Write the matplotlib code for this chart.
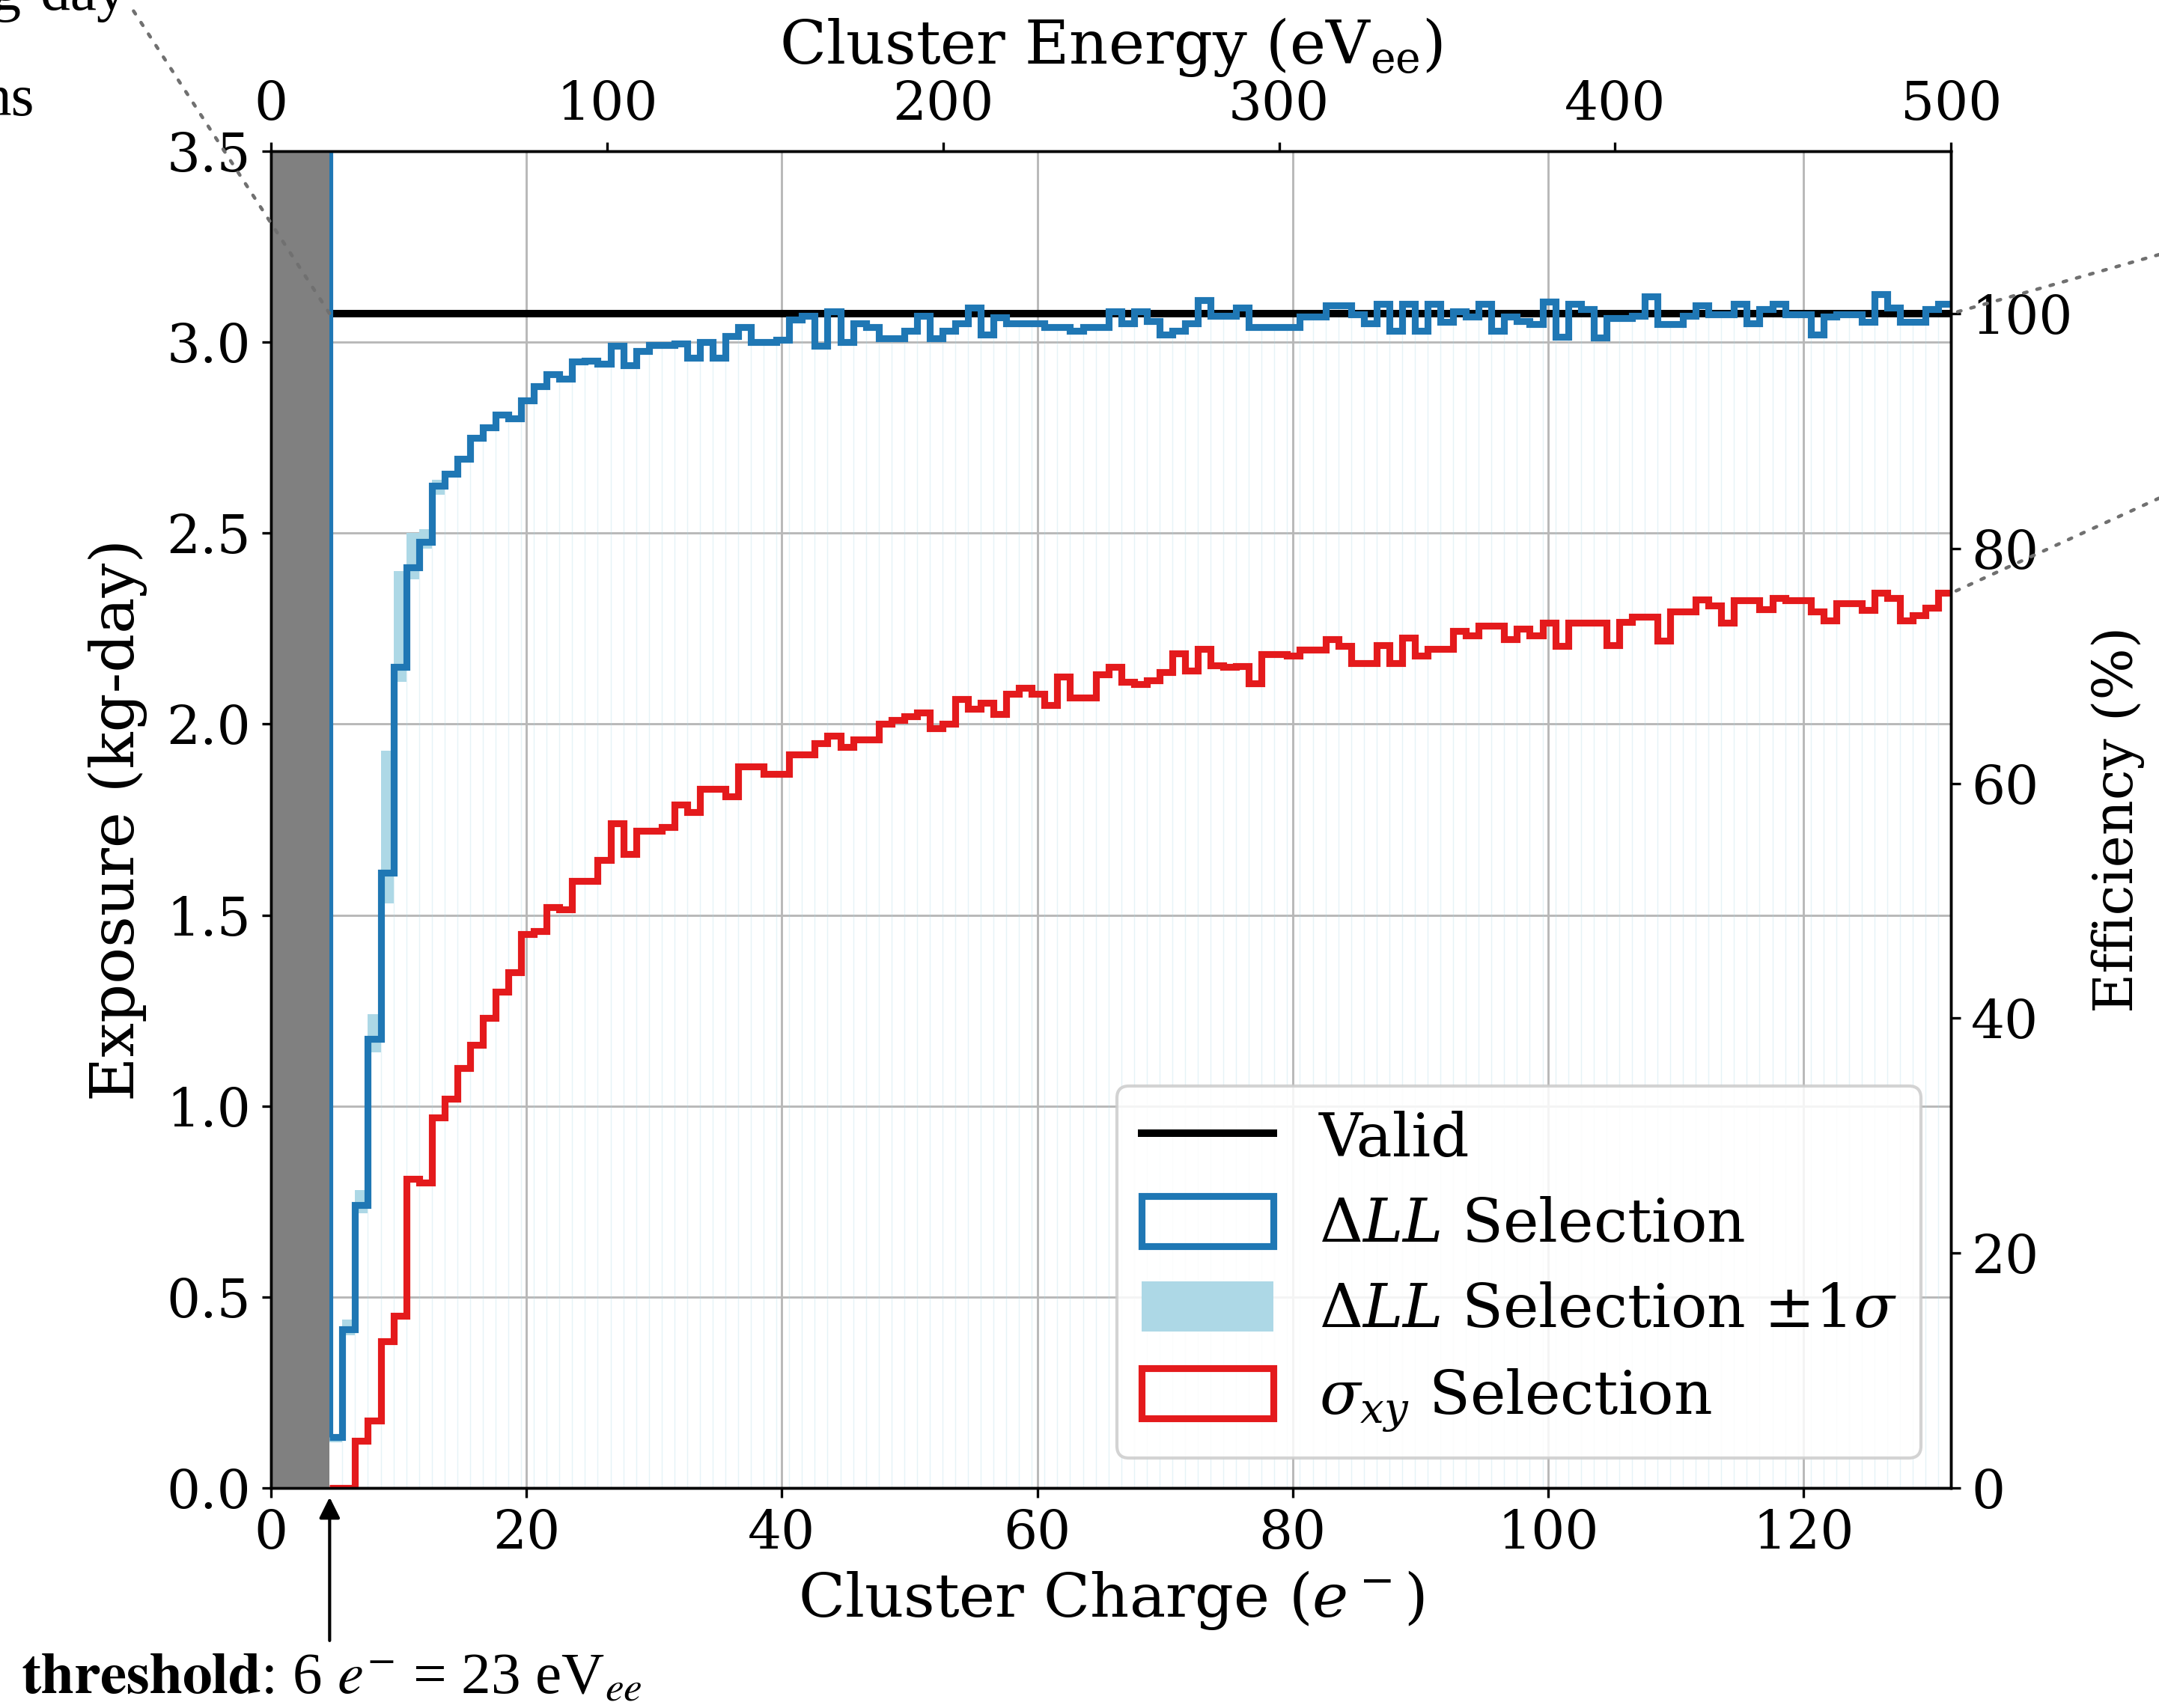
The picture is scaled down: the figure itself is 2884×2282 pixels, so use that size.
import matplotlib.pyplot as plt
import numpy as np
from matplotlib.lines import Line2D
from matplotlib.patches import ConnectionPatch, Patch

plt.rcParams["font.family"] = "DejaVu Serif"
plt.rcParams["mathtext.fontset"] = "dejavuserif"

EV_PER_E = 3.8      # eV_ee per electron
E_MAX = 500.0       # top axis range (eV_ee)
EXPO_MAX = 3.5      # kg-day
VALID = 3.075       # valid exposure (kg-day) == 100 %

# Delta-LL selection, one value per 1 e- bin (last bin ends at 500 eV_ee)
dll_sel = [
    0.133, 0.415, 0.74, 1.176, 1.61, 2.15, 2.41, 2.478, 2.624, 2.656,
    2.694, 2.75, 2.777, 2.81, 2.80, 2.847, 2.885, 2.917, 2.904, 2.949,
    2.952,
    2.944, 2.99, 2.94, 2.977, 2.993, 2.993, 2.997, 2.96, 3.0, 2.96,
    3.016, 3.04, 3.0, 3.0, 3.007, 3.06, 3.07, 2.99, 3.08, 3.0,
    3.05, 3.04, 3.01, 3.01, 3.03, 3.07, 3.01, 3.03, 3.05, 3.09,
    3.02, 3.065, 3.05, 3.05, 3.05, 3.04, 3.04, 3.03, 3.04, 3.04,
    3.08, 3.05, 3.08, 3.055, 3.02, 3.03, 3.05, 3.11, 3.07, 3.07,
    3.09, 3.04, 3.04,
    3.04, 3.04, 3.067, 3.067, 3.097, 3.097, 3.074, 3.05, 3.1, 3.03,
    3.1, 3.03, 3.1, 3.054, 3.08, 3.067, 3.1, 3.03, 3.067, 3.055,
    3.048, 3.106, 3.015, 3.1, 3.087, 3.012, 3.064, 3.064, 3.07, 3.12,
    3.048, 3.048, 3.07, 3.097, 3.074, 3.074, 3.1, 3.05, 3.087, 3.1,
    3.074, 3.074, 3.02, 3.067, 3.074, 3.074, 3.054, 3.126, 3.09, 3.054,
    3.054, 3.087, 3.1,
]

# +-1 sigma band, only visible on the rising edge (first bins)
dll_lo = [0.12, 0.40, 0.72, 1.14, 1.53, 2.11, 2.38, 2.46, 2.60]
dll_hi = [0.14, 0.44, 0.78, 1.24, 1.93, 2.40, 2.50, 2.51, 2.64]

# sigma_xy selection
sxy_sel = [
    0.0, 0.0, 0.124, 0.177, 0.384, 0.45, 0.81, 0.80, 0.97, 1.018,
    1.10, 1.16, 1.23, 1.30, 1.35, 1.451, 1.458, 1.52, 1.515, 1.59,
    1.59,
    1.644, 1.74, 1.66, 1.72, 1.72, 1.73, 1.79, 1.77, 1.83, 1.83,
    1.81, 1.89, 1.89, 1.87, 1.87, 1.92, 1.92, 1.95, 1.97, 1.94,
    1.96, 1.96, 2.0, 2.01, 2.02, 2.03, 1.99, 2.0, 2.065, 2.04,
    2.056, 2.026, 2.08, 2.095, 2.08, 2.05, 2.124, 2.07, 2.07, 2.13,
    2.15, 2.11, 2.105, 2.114, 2.137, 2.186, 2.14, 2.196, 2.154, 2.15,
    2.151, 2.106,
    2.183, 2.183, 2.18, 2.194, 2.194, 2.223, 2.204, 2.16, 2.16, 2.206,
    2.16, 2.226, 2.18, 2.197, 2.197, 2.243, 2.233, 2.258, 2.258, 2.223,
    2.249, 2.233, 2.265, 2.204, 2.265, 2.265, 2.265, 2.206, 2.268, 2.281,
    2.281, 2.219, 2.294, 2.294, 2.327, 2.311, 2.265, 2.324, 2.324, 2.301,
    2.330, 2.324, 2.324, 2.294, 2.271, 2.317, 2.317, 2.298, 2.343, 2.330,
    2.271, 2.285, 2.304, 2.343,
]

BLUE = "#1f77b4"
RED = "#e41a1c"
BAND = "lightblue"

q_max = E_MAX / EV_PER_E
# 1 e- wide bins, aligned so the last edge sits at 500 eV_ee
edges = q_max - np.arange(len(dll_sel), -1, -1)
thr = edges[0]

fig = plt.figure(figsize=(2884 / 300, 2282 / 300), dpi=300)
ax = fig.add_axes([0.1256, 0.1289, 0.7781, 0.7825])

# faint seams under the curve
dll = np.array(dll_sel)
seam_top = np.minimum(dll[:-1], dll[1:])
ax.vlines(edges[1:-1], 0, seam_top, color=BAND, lw=0.35, alpha=0.3, zorder=1)

# +-1 sigma band
nb = len(dll_lo)
ax.stairs(dll_hi, edges[: nb + 1], baseline=dll_lo, fill=True, color=BAND, zorder=2)

# valid exposure
ax.hlines(VALID, thr, q_max, color="black", lw=2.4, zorder=3)

# selections
ax.stairs(sxy_sel, edges, baseline=None, color=RED, lw=2.2, zorder=4)
ax.stairs(dll_sel, edges, baseline=None, color=BLUE, lw=2.2, zorder=5)
ax.vlines(thr, dll_sel[0], EXPO_MAX, color=BLUE, lw=2.2, zorder=5)

# below threshold
ax.axvspan(0, thr, color="gray", lw=0, zorder=6)

ax.set_xlim(0, q_max)
ax.set_ylim(0, EXPO_MAX)
ax.set_xticks(np.arange(0, 121, 20))
ax.set_yticks(np.arange(0, 3.51, 0.5))
ax.grid(True, color="#b8b8b8", lw=0.7)
ax.set_axisbelow(True)
ax.tick_params(labelsize=17, length=3, width=0.8)
ax.set_xlabel(r"Cluster Charge ($e^-$)", fontsize=19.5, labelpad=3)
ax.set_ylabel("Exposure (kg-day)", fontsize=19.5, labelpad=6)

axt = ax.twiny()
axt.set_xlim(0, E_MAX)
axt.set_xticks(np.arange(0, 501, 100))
axt.tick_params(labelsize=17, length=3, width=0.8)
axt.set_xlabel(r"Cluster Energy (eV$_{\mathrm{ee}}$)", fontsize=19.5, labelpad=5)

axr = ax.twinx()
axr.set_ylim(0, EXPO_MAX / VALID * 100)
axr.set_yticks(np.arange(0, 101, 20))
axr.tick_params(labelsize=17, length=3, width=0.8)
axr.set_ylabel("Efficiency (%)", fontsize=17.5, labelpad=6)

for a in (ax, axt, axr):
    for s in a.spines.values():
        s.set_linewidth(0.8)

handles = [
    Line2D([], [], color="black", lw=2.4),
    Patch(facecolor="none", edgecolor=BLUE, lw=2.2),
    Patch(facecolor=BAND, edgecolor="none"),
    Patch(facecolor="none", edgecolor=RED, lw=2.2),
]
labels = [
    "Valid",
    r"$\Delta LL$ Selection",
    r"$\Delta LL$ Selection $\pm 1\sigma$",
    r"$\sigma_{xy}$ Selection",
]
leg = axr.legend(handles, labels, loc="lower right", fontsize=19.3,
                 handlelength=2.2, handleheight=0.9, labelspacing=0.45,
                 handletextpad=0.75, framealpha=0.85)

# threshold arrow and caption
axr.annotate("", xy=(thr, 0), xycoords=("data", "axes fraction"),
             xytext=(thr, 1 - 1192 / 1241), textcoords=("data", "figure fraction"),
             arrowprops=dict(arrowstyle="-|>", color="black", lw=1.0,
                             mutation_scale=14, shrinkA=0, shrinkB=3),
             annotation_clip=False)
fig.text(15 / 1568, 1 - 1230 / 1241,
         r"$\mathbf{threshold}$: 6 $e^{-}$ = 23 eV$_{ee}$",
         fontfamily="Liberation Serif", math_fontfamily="stix",
         fontsize=19, va="baseline", ha="left")

# fragments of the surrounding page
fig.text(92 / 1568, 1 - 7 / 1241, "kg-day", fontfamily="Liberation Serif",
         fontsize=19, va="baseline", ha="right")
fig.text(25 / 1568, 1 - 84 / 1241, "ns", fontfamily="Liberation Serif",
         fontsize=19, va="baseline", ha="right")

# dotted zoom connectors
links = [
    ((97 / 1568, 1 - 8 / 1241), (thr, VALID)),
    ((1.0, 1 - 185 / 1241), (q_max, VALID)),
    ((1.0, 1 - 362 / 1241), (q_max, sxy_sel[-1])),
]
for p_fig, p_dat in links:
    con = ConnectionPatch(xyA=p_fig, coordsA="figure fraction",
                          xyB=p_dat, coordsB=ax.transData,
                          linestyle=(0, (1, 3)), color="#707070", lw=1.1)
    fig.add_artist(con)

fig.savefig("out.png", dpi=300)
